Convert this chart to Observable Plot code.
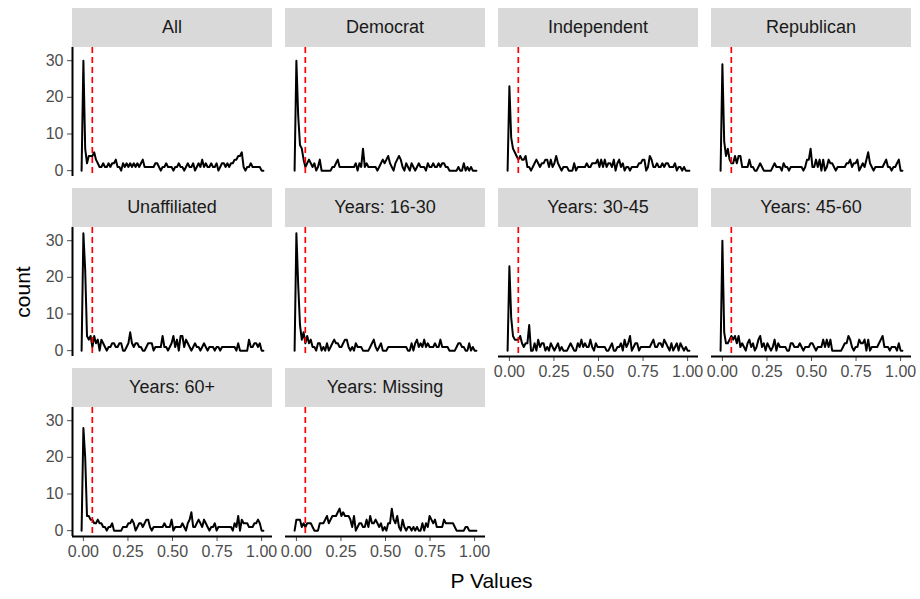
<!DOCTYPE html>
<html>
<head>
<meta charset="utf-8">
<script src="https://cdn.jsdelivr.net/npm/d3@7"></script>
<script src="https://cdn.jsdelivr.net/npm/@observablehq/plot@0.6"></script>
<style>
  body { margin: 0; background: #ffffff; }
  #chart { position: relative; width: 920px; height: 599px; font-family: "Liberation Sans", Arial, sans-serif; overflow: hidden; }
  .strip { position: absolute; background: #d9d9d9; color: #1a1a1a; font-size: 18px; display: flex; align-items: center; justify-content: center; }
  .panel { position: absolute; display: block; }
  .axis-title { position: absolute; color: #000000; font-size: 21px; white-space: nowrap; }
</style>
</head>
<body>
<div id="chart"></div>
<script>
// Facet names, in facet_wrap order (4 columns)
const facetNames = ["All", "Democrat", "Independent", "Republican", "Unaffiliated",
  "Years: 16-30", "Years: 30-45", "Years: 45-60", "Years: 60+", "Years: Missing"];

// Frequency-polygon counts: 100 bins of width 1/99 centred on 0, 1/99, ..., 1
const countsAll = [30,6,2,4,4,4,5,3,2,1, 1,2,1,1,2,1,2,2,3,1, 1,0,2,1,2,1,2,1,2,1, 2,1,2,3,1,1,1,1,1,1,
  2,2,1,0,1,1,2,1,1,1, 0,1,1,2,1,1,0,1,2,1, 1,2,0,1,2,1,3,1,2,1, 1,2,1,1,2,0,1,2,2,1,
  2,1,2,2,3,3,4,4,5,1, 0,1,1,2,1,1,1,1,1,0];
const countsDemocrat = [30,15,7,6,3,1,2,3,2,1, 2,0,1,3,0,0,0,0,0,0, 1,1,2,3,1,1,1,1,1,1, 1,1,1,2,0,2,1,6,1,2,
  1,1,1,1,1,0,1,2,3,2, 3,4,2,1,0,2,3,4,3,1, 0,2,1,0,2,1,0,1,2,1, 1,1,0,2,1,1,2,1,1,2,
  1,2,2,1,1,0,0,0,0,0, 1,0,0,2,0,1,0,1,0,0];
const countsIndependent = [23,9,6,5,4,3,4,3,3,4, 1,1,0,1,2,3,2,1,2,2, 3,3,1,3,1,2,4,2,1,0, 1,1,1,0,0,0,2,0,1,1,
  1,1,1,2,1,1,2,2,2,3, 1,3,1,3,1,2,2,1,3,0, 2,3,1,2,0,1,1,0,1,1, 1,1,2,2,3,3,0,1,4,3,
  1,1,2,1,1,2,1,2,2,1, 1,1,2,0,1,1,0,1,0,0];
const countsRepublican = [29,8,4,6,3,2,2,4,2,4, 4,1,1,1,1,3,1,1,0,0, 1,2,1,0,0,0,0,0,1,2, 1,1,1,0,2,1,1,0,1,1,
  1,1,1,1,1,0,1,3,3,6, 1,1,3,1,3,0,3,0,1,3, 2,2,1,0,1,1,1,1,1,2, 2,3,1,2,2,3,0,1,2,1,
  3,5,2,1,0,1,1,1,1,1, 2,3,1,1,0,1,1,2,3,0];
const countsUnaffiliated = [32,22,4,3,4,1,4,2,3,0, 3,2,1,0,1,1,2,2,1,1, 2,2,0,0,1,2,5,2,1,2, 2,1,1,0,0,1,2,2,2,0,
  1,1,1,1,4,1,1,0,1,2, 4,1,3,0,4,4,1,3,2,1, 0,1,2,1,1,0,1,2,1,0, 1,1,1,0,1,1,0,1,1,1,
  1,1,1,1,1,0,2,0,0,0, 0,0,3,1,1,2,2,1,2,0];
const countsYears16to30 = [32,18,7,3,5,2,4,2,3,1, 1,0,2,2,0,1,0,2,0,1, 2,3,2,2,1,1,2,3,3,1, 0,1,0,2,1,1,1,0,0,0,
  0,1,2,3,1,0,1,2,0,0, 0,1,1,1,1,1,1,1,1,1, 1,1,0,0,2,0,2,3,1,2, 1,3,1,2,1,1,1,2,1,1,
  3,1,1,1,1,0,0,0,0,1, 2,2,1,1,0,0,2,0,1,0];
const countsYears30to45 = [23,9,4,3,3,3,4,2,1,2, 2,7,0,0,2,0,3,1,2,2, 0,1,0,2,1,0,1,2,0,1, 0,0,0,1,2,1,0,0,2,1,
  3,1,2,1,1,3,1,0,2,1, 1,1,1,1,0,0,1,2,0,0, 1,1,2,0,3,1,2,4,0,1, 2,2,0,1,1,1,1,1,1,2,
  3,1,1,2,2,1,3,2,1,0, 2,0,1,2,0,2,1,0,1,0];
const countsYears45to60 = [30,5,2,2,3,4,3,4,2,4, 1,2,1,0,2,3,1,2,0,1, 3,4,1,2,0,2,1,0,1,3, 0,2,1,1,1,1,0,0,2,2,
  1,1,1,2,1,0,1,1,1,2, 2,1,0,1,1,1,3,1,3,1, 3,0,0,0,0,0,0,1,2,2, 4,3,1,0,1,1,3,2,2,3,
  0,3,0,1,1,1,1,2,3,4, 1,1,1,0,1,1,1,0,2,0];
const countsYears60plus = [28,20,4,4,3,3,2,2,3,2, 2,1,1,0,1,1,2,0,0,0, 0,0,1,1,1,2,2,3,2,0, 1,2,2,1,2,3,3,1,0,1,
  1,1,1,1,1,2,1,1,1,3, 0,1,1,1,1,2,1,0,2,3, 5,1,1,2,3,2,1,3,2,1, 0,1,1,2,0,1,1,1,1,1,
  1,1,1,0,2,1,4,0,3,2, 2,2,1,1,1,2,2,3,2,0];
const countsYearsMissing = [3,3,3,1,2,1,2,2,2,1, 0,0,0,2,2,2,3,4,2,3, 4,4,4,5,6,4,5,4,4,4, 3,1,4,0,1,2,2,1,1,3,
  1,4,2,2,3,2,1,2,0,1, 0,2,2,6,3,2,4,1,0,3, 1,0,1,1,0,1,0,1,0,0, 2,0,2,1,4,3,2,3,1,1,
  1,1,3,2,2,2,2,2,1,0, 0,0,0,0,1,1,0,0,0,0];

const seriesByFacet = [countsAll, countsDemocrat, countsIndependent, countsRepublican, countsUnaffiliated,
  countsYears16to30, countsYears30to45, countsYears45to60, countsYears60plus, countsYearsMissing];

const xTicks = [0, 0.25, 0.5, 0.75, 1];
const yTicks = [0, 10, 20, 30];
const cutoff = 0.05;   // significance threshold marker

// Bin grid: n bins of width 1/(n-1), padded with an empty bin on each side
const nBins = 100;
const binWidth = 1 / (nBins - 1);
function polygon(counts) {
  const pts = [{x: -binWidth, y: 0}];
  counts.forEach((c, i) => pts.push({x: i * binWidth, y: c}));
  pts.push({x: 1 + binWidth, y: 0});
  return pts;
}

// Shared scales with 5% padding, as in ggplot's default expansion
const xLo = -binWidth, xHi = 1 + binWidth;
const xPad = 0.05 * (xHi - xLo);
const xDomain = [xLo - xPad, xHi + xPad];
const yMax = d3.max(seriesByFacet, s => d3.max(s));
const yDomain = [-0.05 * yMax, yMax * 1.05];

// Layout of the facet grid
const nCols = 4;
const gridLeft = 72, panelW = 200, hGap = 13;
const gridTop = 8, stripH = 39, panelH = 129, vGap = 12;
const axisLeftW = 50, axisBottomH = 32;

const chart = document.getElementById("chart");
const nRows = Math.ceil(facetNames.length / nCols);

facetNames.forEach((name, i) => {
  const col = i % nCols, row = Math.floor(i / nCols);
  const left = gridLeft + col * (panelW + hGap);
  const stripTop = gridTop + row * (stripH + panelH + vGap);
  const panelTop = stripTop + stripH;
  const showY = col === 0;
  const showX = i + nCols >= facetNames.length;

  const strip = document.createElement("div");
  strip.className = "strip";
  strip.style.left = left + "px";
  strip.style.top = stripTop + "px";
  strip.style.width = panelW + "px";
  strip.style.height = stripH + "px";
  strip.textContent = name;
  chart.appendChild(strip);

  const ml = showY ? axisLeftW : 0;
  const mb = showX ? axisBottomH : 0;
  const marks = [
    Plot.line(polygon(seriesByFacet[i]), {x: "x", y: "y", stroke: "#000000", strokeWidth: 2}),
    Plot.ruleX([cutoff], {stroke: "#ff0000", strokeWidth: 1.7, strokeDasharray: "6,4"})
  ];
  if (showY) marks.push(Plot.ruleX([xDomain[0]], {stroke: "#000000", strokeWidth: 2}));
  if (showX) marks.push(Plot.ruleY([yDomain[0]], {stroke: "#000000", strokeWidth: 2}));

  const svg = Plot.plot({
    width: panelW + ml,
    height: panelH + mb,
    marginLeft: ml, marginRight: 0, marginTop: 0, marginBottom: mb,
    style: {fontFamily: '"Liberation Sans", Arial, sans-serif', fontSize: "16px", color: "#4d4d4d", background: "transparent", overflow: "visible"},
    x: {domain: xDomain, axis: showX ? "bottom" : null, ticks: xTicks, tickFormat: d3.format(".2f"), tickSize: 5, tickPadding: 4, label: null},
    y: {domain: yDomain, axis: showY ? "left" : null, ticks: yTicks, tickSize: 5, tickPadding: 4, label: null},
    marks
  });
  svg.classList.add("panel");
  svg.style.left = (left - ml) + "px";
  svg.style.top = panelTop + "px";
  chart.appendChild(svg);
});

// Axis titles
const gridRight = gridLeft + nCols * panelW + (nCols - 1) * hGap;
const gridBottom = gridTop + nRows * (stripH + panelH) + (nRows - 1) * vGap;

const xTitle = document.createElement("div");
xTitle.className = "axis-title";
xTitle.textContent = "P Values";
chart.appendChild(xTitle);
xTitle.style.left = ((gridLeft + gridRight) / 2 - xTitle.offsetWidth / 2) + "px";
xTitle.style.top = (581 - xTitle.offsetHeight / 2) + "px";

const yTitle = document.createElement("div");
yTitle.className = "axis-title";
yTitle.textContent = "count";
chart.appendChild(yTitle);
const yMid = (gridTop + stripH + gridBottom) / 2;
yTitle.style.left = (22 - yTitle.offsetWidth / 2) + "px";
yTitle.style.top = (yMid - yTitle.offsetHeight / 2) + "px";
yTitle.style.transform = "rotate(-90deg)";
</script>
</body>
</html>
